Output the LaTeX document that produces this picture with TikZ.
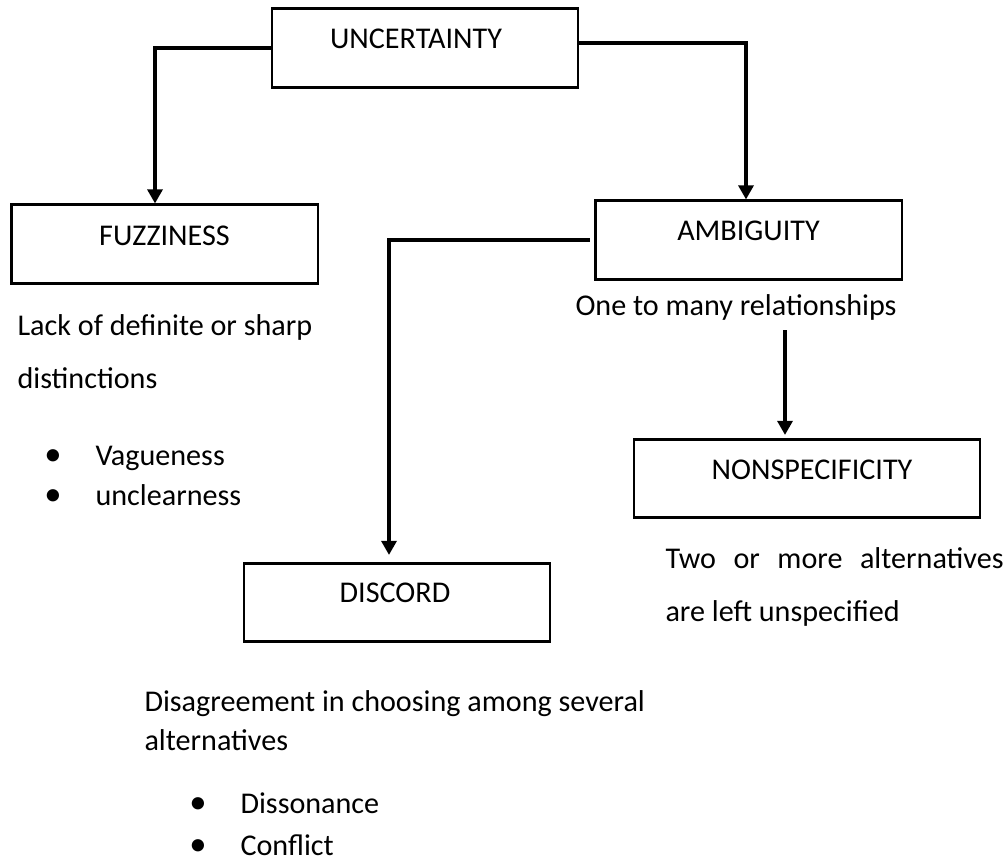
\documentclass[tikz,border=0pt]{standalone}
\usepackage{fontspec}
\setmainfont{Carlito}
\usetikzlibrary{arrows.meta,calc}
\begin{document}
\begin{tikzpicture}[x=0.375pt,y=-0.375pt,
  font=\fontsize{11.3pt}{13pt}\selectfont,
  box/.style={draw=black,line width=1.1pt,inner sep=0pt,minimum height=29.3pt},
  lbl/.style={inner sep=0pt,anchor=base},
  txt/.style={inner sep=0pt,anchor=base west},
  bul/.style={inner sep=0pt,anchor=base,font=\fontsize{13pt}{13pt}\selectfont},
  link/.style={line width=1.3pt},
  conn/.style={link,-{Triangle[length=5.3pt,width=5.6pt]}}]
\useasboundingbox (0,0) rectangle (1006,861);

% boxes
\node[box,minimum width=114.75pt] (unc) at (425,48) {};
\node[box,minimum width=115.1pt] (fuz) at (164.5,244) {};
\node[box,minimum width=115.1pt] (amb) at (748.5,240) {};
\node[box,minimum width=114.75pt] (dis) at (397,602.5) {};
\node[box,minimum width=129.75pt] (non) at (807,478.5) {};

% box titles
\node[lbl] (unct) at (416,48) {UNCERTAINTY};
\node[lbl] (fuzt) at (164.5,245) {FUZZINESS};
\node[lbl] (ambt) at (748.5,240) {AMBIGUITY};
\node[lbl] (dist) at (395,602) {DISCORD};
\node[lbl] (nont) at (812,479) {NONSPECIFICITY};

% descriptions
\node[txt] (fuz1) at (17,335) {Lack of definite or sharp};
\node[txt] (fuz2) at (17,388) {distinctions};
\node[bul] (fb1) at (53,465) {\textbullet};
\node[txt] (fuz3) at (95,465) {Vagueness};
\node[bul] (fb2) at (53,505) {\textbullet};
\node[txt] (fuz4) at (95,505) {unclearness};

\node[txt] (rel) at (575,315) {One to many relationships};

\node[txt] (non1) at (665,568) {\makebox[126.75pt][s]{Two\hfill or\hfill more\hfill alternatives}};
\node[txt] (non2) at (665,621) {are left unspecified};

\node[txt] (dis1) at (144,711) {Disagreement in choosing among several};
\node[txt] (dis2) at (144,750) {alternatives};
\node[bul] (db1) at (198,813) {\textbullet};
\node[txt] (dis3) at (240,813) {Dissonance};
\node[bul] (db2) at (198,855) {\textbullet};
\node[txt] (dis4) at (240,855) {Conflict};

% connectors
\draw[conn] (unc.west) -| ($(fuz.north)+(-9.5,0)$);
\draw[conn] ($(unc.east)+(0,-5)$) -| ($(amb.north)+(-2.5,0)$);
\draw[conn] ($(amb.west)+(-4,0)$) -| ($(dis.north)+(-8,-7)$);
\coordinate (nsrc) at (785,330);
\draw[conn] (nsrc) -- ($(nsrc |- non.north)+(0,-3)$);
\end{tikzpicture}
\end{document}
